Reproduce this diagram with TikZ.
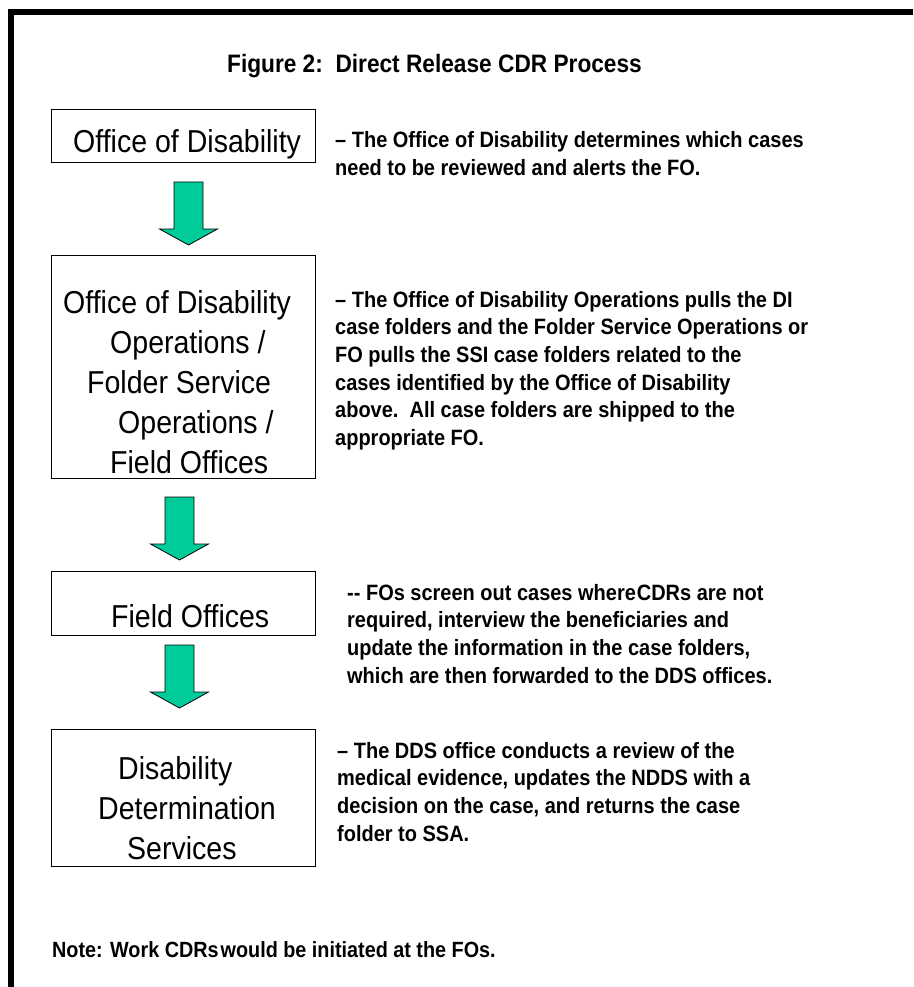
\documentclass[tikz,border=0pt]{standalone}
\usepackage{fontspec}
\setmainfont{Liberation Sans}
\newfontfamily\condfont[FakeStretch=0.9]{Liberation Sans}
\definecolor{arrowgreen}{RGB}{0,204,153}
\tikzset{
  box/.style={draw=black, line width=1pt, fill=white, inner sep=0pt, anchor=north west},
  boxtext/.style={anchor=base west, inner sep=0pt, font=\condfont\fontsize{31.7}{40}\selectfont},
  desctext/.style={anchor=base west, inner sep=0pt, font=\condfont\bfseries\fontsize{22.2}{27.7}\selectfont},
  titletext/.style={anchor=base, inner sep=0pt, font=\condfont\bfseries\fontsize{25.2}{30}\selectfont},
  notetext/.style={anchor=base west, inner sep=0pt, font=\condfont\bfseries\fontsize{22}{27}\selectfont},
  blockarrow/.pic={
    \draw[fill=arrowgreen, draw=black, line width=0.8pt]
      (-14.5,0) -- (14.5,0) -- (14.5,47) -- (29,47) -- (0,63) -- (-29,47) -- (-14.5,47) -- cycle;
  }
}
\begin{document}
\begin{tikzpicture}[x=1pt,y=-1pt]
\useasboundingbox (0,0) rectangle (913,987);
% frame
\fill[black] (8,9) rectangle (913,15);
\fill[black] (8,9) rectangle (14,987);

% title
\node[titletext] (title) at (434.5,73) {Figure 2:\ \ Direct Release CDR Process};

% boxes
\node[box, minimum width=264pt, minimum height=53pt] (b1) at (51,109) {};
\node[box, minimum width=264pt, minimum height=223pt] (b2) at (51,255) {};
\node[box, minimum width=264pt, minimum height=64pt] (b3) at (51,571) {};
\node[box, minimum width=264pt, minimum height=137pt] (b4) at (51,729) {};

% box texts
\node[boxtext] (t1) at (73,153) {Office of Disability};
\node[boxtext] (t2) at (63,313) {\begin{tabular}[t]{@{}l@{}}
Office of Disability\\
\hspace*{47pt}Operations /\\
\hspace*{24pt}Folder Service\\
\hspace*{55pt}Operations /\\
\hspace*{47pt}Field Offices
\end{tabular}};
\node[boxtext] (t3) at (111,627) {Field Offices};
\node[boxtext] (t4) at (98,779) {\begin{tabular}[t]{@{}l@{}}
\hspace*{20pt}Disability\\
Determination\\
\hspace*{29pt}Services
\end{tabular}};

% arrows
\pic at (188.5,182) {blockarrow};
\pic at (179.5,497) {blockarrow};
\pic at (179.5,645) {blockarrow};

% descriptions
\node[desctext] (d1) at (335,148) {\begin{tabular}[t]{@{}l@{}}
– The Office of Disability determines which cases\\
need to be reviewed and alerts the FO.
\end{tabular}};
\node[desctext] (d2) at (335,307) {\begin{tabular}[t]{@{}l@{}}
– The Office of Disability Operations pulls the DI\\
case folders and the Folder Service Operations or\\
FO pulls the SSI case folders related to the\\
cases identified by the Office of Disability\\
above.\ \ All case folders are shipped to the\\
appropriate FO.
\end{tabular}};
\node[desctext] (d3) at (347,600) {\begin{tabular}[t]{@{}l@{}}
-{}- FOs screen out cases where\hspace{1pt}CDRs are not\\
required, interview the beneficiaries and\\
update the information in the case folders,\\
which are then forwarded to the DDS offices.
\end{tabular}};
\node[desctext] (d4) at (337,758) {\begin{tabular}[t]{@{}l@{}}
– The DDS office conducts a review of the\\
medical evidence, updates the NDDS with a\\
decision on the case, and returns the case\\
folder to SSA.
\end{tabular}};

% note
\node[notetext] (note) at (52,957) {Note: Work CDRs\hspace{2pt}would be initiated at the FOs.};
\end{tikzpicture}
\end{document}
